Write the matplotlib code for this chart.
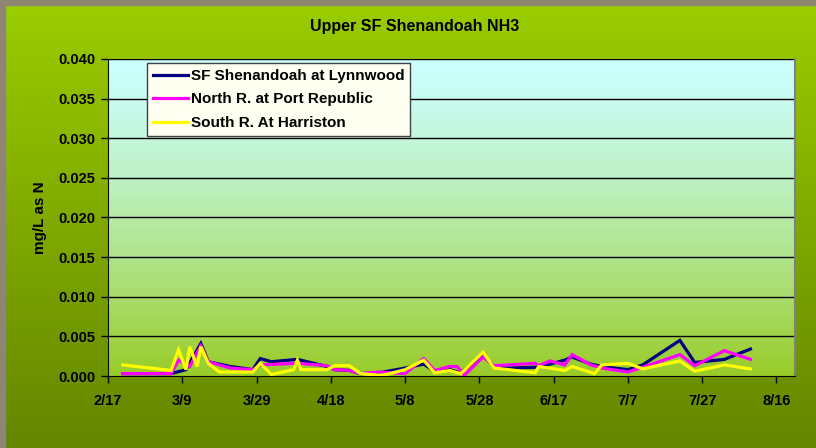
import datetime as dt
import numpy as np
import matplotlib
matplotlib.use("Agg")
import matplotlib.pyplot as plt
import matplotlib.dates as mdates

YEAR = 2005

# sample dates (m/d) and NH3 values, mg/L as N
lynn_dates = ["2/21", "3/6", "3/10", "3/14", "3/16", "3/22", "3/28", "3/30", "4/2", "4/9",
              "4/17", "4/19", "4/23", "4/26", "5/1", "5/8", "5/13", "5/16", "5/20", "5/23",
              "5/29", "6/1", "6/5", "6/12", "6/16", "6/20", "6/22", "6/27", "6/30", "7/7",
              "7/11", "7/21", "7/25", "8/2", "8/9"]
lynn_vals = [0.0003, 0.0003, 0.0008, 0.0041, 0.0018, 0.0012, 0.0008, 0.0022, 0.0018, 0.0021,
             0.0012, 0.0008, 0.0007, 0.0003, 0.0004, 0.0010, 0.0015, 0.0006, 0.0008, 0.0004,
             0.0026, 0.0012, 0.0010, 0.0011, 0.0015, 0.0020, 0.0024, 0.0015, 0.0012, 0.0008,
             0.0014, 0.0045, 0.0017, 0.0021, 0.0034]

north_dates = ["2/21", "3/6", "3/8", "3/11", "3/14", "3/16", "3/22", "3/28", "3/30", "4/9",
               "4/17", "4/19", "4/23", "4/26", "5/1", "5/8", "5/13", "5/16", "5/20", "5/22",
               "5/24", "5/29", "6/1", "6/5", "6/12", "6/13", "6/16", "6/20", "6/22", "6/27",
               "6/30", "7/7", "7/11", "7/21", "7/25", "8/2", "8/9"]
north_vals = [0.0003, 0.0003, 0.0020, 0.0012, 0.0038, 0.0018, 0.0010, 0.0008, 0.0014, 0.0016,
              0.0013, 0.0008, 0.0007, 0.0003, 0.0005, 0.0003, 0.0022, 0.0007, 0.0012, 0.0012,
              0.0001, 0.0024, 0.0013, 0.0014, 0.0016, 0.0013, 0.0019, 0.0014, 0.0027, 0.0014,
              0.0010, 0.0005, 0.0011, 0.0027, 0.0013, 0.0032, 0.0021]

south_dates = ["2/21", "3/6", "3/8", "3/10", "3/11", "3/13", "3/14", "3/16", "3/19", "3/28",
               "3/30", "4/2", "4/8", "4/9", "4/10", "4/17", "4/19", "4/23", "4/26", "5/1",
               "5/3", "5/8", "5/13", "5/16", "5/20", "5/23", "5/25", "5/29", "6/1", "6/5",
               "6/12", "6/13", "6/20", "6/22", "6/28", "6/30", "7/7", "7/11", "7/21", "7/25",
               "8/2", "8/9"]
south_vals = [0.0014, 0.0007, 0.0033, 0.0008, 0.0037, 0.0012, 0.0037, 0.0016, 0.0005, 0.0005,
              0.0016, 0.0002, 0.0008, 0.0020, 0.0008, 0.0008, 0.0013, 0.0013, 0.0003, 0.0001,
              0.0002, 0.0008, 0.0020, 0.0004, 0.0007, 0.0003, 0.0012, 0.0030, 0.0010, 0.0008,
              0.0004, 0.0012, 0.0007, 0.0012, 0.0003, 0.0014, 0.0016, 0.0009, 0.0019, 0.0006,
              0.0014, 0.0009]

series_names = ["SF Shenandoah at Lynnwood", "North R. at Port Republic", "South R. At Harriston"]
series_colors = ["#000080", "#FF00FF", "#FFFF00"]

y_ticks = [0.000, 0.005, 0.010, 0.015, 0.020, 0.025, 0.030, 0.035, 0.040]


def to_dates(md):
    out = []
    for s in md:
        m, d = s.split("/")
        out.append(dt.date(YEAR, int(m), int(d)))
    return out


start = dt.date(YEAR, 2, 17)
x_ticks = [start + dt.timedelta(days=20 * i) for i in range(10)]
x_end = start + dt.timedelta(days=185)

font = ["Liberation Sans Narrow", "Liberation Sans", "DejaVu Sans"]
font_wide = ["Liberation Sans", "DejaVu Sans"]

fig = plt.figure(figsize=(8.16, 4.48), dpi=100)

# outer green gradient
bg = fig.add_axes([0, 0, 1, 1], zorder=-10)
top_c = np.array([155, 205, 0]) / 255
bot_c = np.array([100, 134, 0]) / 255
t = np.linspace(0, 1, 256)[:, None]
grad = top_c[None, :] * (1 - t) + bot_c[None, :] * t
bg.imshow(grad[:, None, :], aspect="auto", extent=[0, 1, 0, 1])
bg.add_patch(plt.Rectangle((0, 0.988), 1, 0.012, color="#8c8672"))
bg.add_patch(plt.Rectangle((0, 0), 0.006, 1, color="#8c8672"))
bg.set_xlim(0, 1)
bg.set_ylim(0, 1)
bg.axis("off")

# plot area
ax = fig.add_axes([108 / 816, 72 / 448, 687 / 816, 317 / 448])
x0, x1 = mdates.date2num(start), mdates.date2num(x_end)
pa_top = np.array([204, 255, 255]) / 255
pa_bot = np.array([153, 204, 40]) / 255
tt = np.linspace(0, 1, 256)[:, None] ** 1.3
pgrad = pa_top[None, :] * (1 - tt) + pa_bot[None, :] * tt
ax.imshow(pgrad[:, None, :], aspect="auto", extent=[x0, x1, 0, 0.04], zorder=0)

for y in y_ticks[1:]:
    ax.axhline(y, color="black", lw=1.0, zorder=1)

for dates, vals, name, col in zip([lynn_dates, north_dates, south_dates],
                                  [lynn_vals, north_vals, south_vals],
                                  series_names, series_colors):
    ax.plot(to_dates(dates), vals, color=col, lw=2.3, label=name, zorder=3,
            solid_joinstyle="miter")

ax.set_xlim(start, x_end)
ax.set_ylim(0, 0.04)
ax.set_yticks(y_ticks)
ax.set_yticklabels(["%.3f" % v for v in y_ticks])
ax.set_xticks(x_ticks)
ax.set_xticklabels(["%d/%d" % (d.month, d.day) for d in x_ticks])

for lab in ax.get_xticklabels() + ax.get_yticklabels():
    lab.set_family(font)
    lab.set_fontweight("bold")
    lab.set_fontsize(10.5)

ax.tick_params(axis="y", direction="out", length=5, width=1, pad=4, colors="black")
ax.tick_params(axis="x", direction="out", length=5, width=1, pad=8, colors="black")
ax.spines["left"].set_color("black")
ax.spines["bottom"].set_color("black")
ax.spines["top"].set_visible(False)
ax.spines["right"].set_color("#808080")
ax.spines["right"].set_linewidth(1.5)

ax.set_ylabel("mg/L as N", family=font_wide, fontweight="bold", fontsize=11, labelpad=8)

fig.text(415 / 816, 1 - 27 / 448, "Upper SF Shenandoah NH3", ha="center", va="center",
         family=font, fontweight="bold", fontsize=11.5)

leg = ax.legend(loc="upper left", bbox_to_anchor=(0.057, 0.988), frameon=True,
                fancybox=False, prop={"family": font_wide, "weight": "bold", "size": 11},
                handlelength=2.3, handletextpad=0.15, labelspacing=0.62,
                borderpad=0.4, borderaxespad=0)
leg.get_frame().set_facecolor("#FFFFF2")
leg.get_frame().set_edgecolor("#404040")
leg.get_frame().set_linewidth(1.0)
leg.get_frame().set_alpha(1)
leg.set_zorder(5)

fig.savefig("out.png", dpi=100)
